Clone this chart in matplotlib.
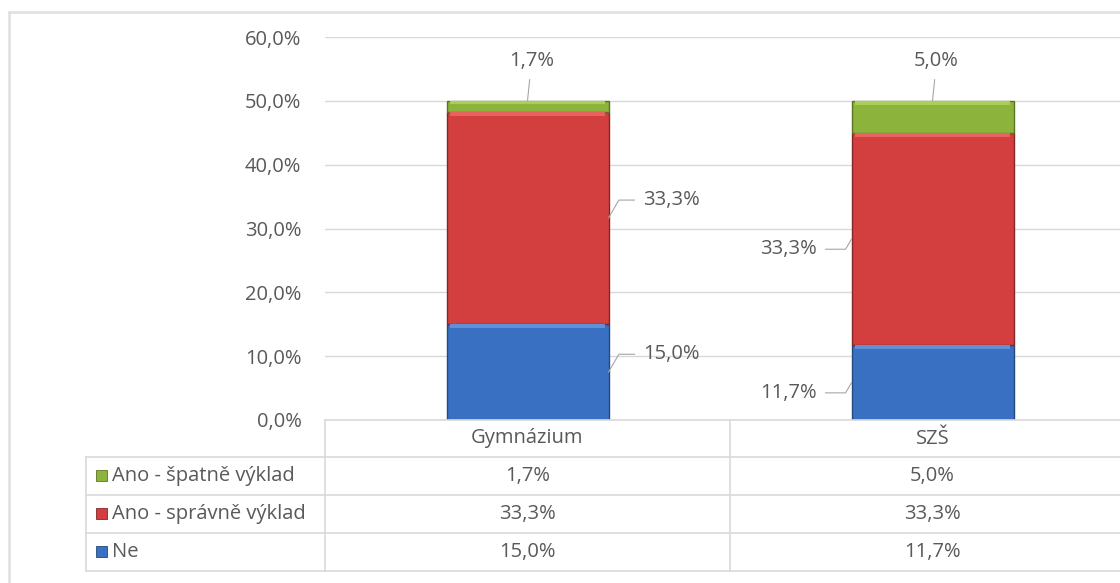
import matplotlib.pyplot as plt
from matplotlib.lines import Line2D
from matplotlib.patches import Rectangle
from matplotlib.transforms import blended_transform_factory

plt.rcParams['font.family'] = ['Open Sans', 'DejaVu Sans']

# --- data ---
categories = ['Gymnázium', 'SZŠ']
series = ['Ano - špatně výklad', 'Ano - správně výklad', 'Ne']
ne = [15.0, 11.7]
spravne = [33.3, 33.3]
spatne = [1.7, 5.0]

W, H = 1120, 583
TXT = '#595959'
GRID = '#d9d9d9'
FS = 14.5

# face, highlight, edge for each series
colors = {
    'Ne': ('#3a70c2', '#5f90d8', '#24497f'),
    'Ano - správně výklad': ('#d33f3f', '#e86262', '#842626'),
    'Ano - špatně výklad': ('#8cb33c', '#a8cf58', '#5a7424'),
}


def fx(px):
    return px / W


def fy(py):
    return 1 - py / H


def pct(v):
    return f'{v:.1f}%'.replace('.', ',')


fig = plt.figure(figsize=(W / 100, H / 100), dpi=100)
ax = fig.add_axes([fx(325), fy(420), fx(1135) - fx(325), fy(37) - fy(420)])

x = list(range(len(categories)))
bw = 0.4
stack = [('Ne', ne), ('Ano - správně výklad', spravne), ('Ano - špatně výklad', spatne)]

bottom = [0.0] * len(x)
mids = {}
for name, vals in stack:
    face, light, edge = colors[name]
    ax.bar(x, vals, bw, bottom=bottom, color=face, edgecolor=edge, linewidth=1.0, zorder=3)
    # light bevel strip along the top of every segment
    hl = [min(0.6, v * 0.3) for v in vals]
    ax.bar(x, hl, bw - 0.015, bottom=[b + v - h for b, v, h in zip(bottom, vals, hl)],
           color=light, linewidth=0, zorder=4)
    mids[name] = [b + v / 2 for b, v in zip(bottom, vals)]
    bottom = [b + v for b, v in zip(bottom, vals)]
totals = bottom

# --- data labels with leader lines ---
lab_kw = dict(fontsize=FS, color=TXT, ha='center', va='center')
line_kw = dict(arrowstyle='-', color='#a6a6a6', lw=0.8, shrinkA=4, shrinkB=0)
side = [1, -1]          # Gymnázium labels to the right, SZŠ to the left
dy_side = [2.8, -1.6]
for i in x:
    ax.annotate(pct(spatne[i]), xy=(i, totals[i]), xytext=(i + 0.01, totals[i] + 6.2),
                arrowprops=line_kw, **lab_kw)
    for name, vals in [('Ano - správně výklad', spravne), ('Ne', ne)]:
        ax.annotate(pct(vals[i]), xy=(i + side[i] * bw / 2, mids[name][i]),
                    xytext=(i + side[i] * 0.355, mids[name][i] + dy_side[i]),
                    arrowprops=dict(line_kw, connectionstyle='angle,angleA=0,angleB=60'),
                    **lab_kw)

# --- axes styling ---
ax.set_xlim(-0.5, 1.5)
ax.set_ylim(0, 60)
ax.set_yticks(range(0, 61, 10))
ax.set_yticklabels([pct(v) for v in range(0, 61, 10)], fontsize=FS, color=TXT)
ax.tick_params(axis='y', length=0, pad=17)
ax.set_xticks([])
ax.grid(axis='y', color=GRID, linewidth=1.0, zorder=0)
for s in ax.spines.values():
    s.set_visible(False)

# --- data table under the plot ---
row_y = [420, 457, 495, 533, 571]
tr = blended_transform_factory(ax.transData, fig.transFigure)
line = dict(color=GRID, linewidth=1.2)

fig.add_artist(Line2D([fx(325), 1], [fy(row_y[0])] * 2, **line))
for yy in row_y[1:]:
    fig.add_artist(Line2D([fx(86), 1], [fy(yy)] * 2, **line))
fig.add_artist(Line2D([fx(86)] * 2, [fy(row_y[1]), fy(row_y[-1])], **line))
for bx in [-0.5, 0.5]:
    ax.add_artist(Line2D([bx, bx], [fy(row_y[0]), fy(row_y[-1])], transform=tr,
                         clip_on=False, **line))

tab_kw = dict(fontsize=FS, color=TXT, ha='center', va='center', transform=tr)
for i, c in enumerate(categories):
    ax.text(i, fy((row_y[0] + row_y[1]) / 2), c, **tab_kw)

rows = [('Ano - špatně výklad', spatne), ('Ano - správně výklad', spravne), ('Ne', ne)]
for r, (name, vals) in enumerate(rows):
    yc = (row_y[r + 1] + row_y[r + 2]) / 2
    face, light, edge = colors[name]
    fig.add_artist(Rectangle((fx(96), fy(yc + 5)), fx(11), 11 / H,
                             facecolor=face, edgecolor=edge, linewidth=0.6))
    fig.text(fx(112), fy(yc), name, fontsize=FS, color=TXT, ha='left', va='center')
    for i in x:
        ax.text(i, fy(yc), pct(vals[i]), **tab_kw)

# outer chart frame
fig.add_artist(Line2D([fx(9), 1], [fy(12)] * 2, color='#e0e0e0', linewidth=1.8))
fig.add_artist(Line2D([fx(9)] * 2, [fy(12), 0], color='#e0e0e0', linewidth=1.8))

fig.savefig('out.png', dpi=100)
